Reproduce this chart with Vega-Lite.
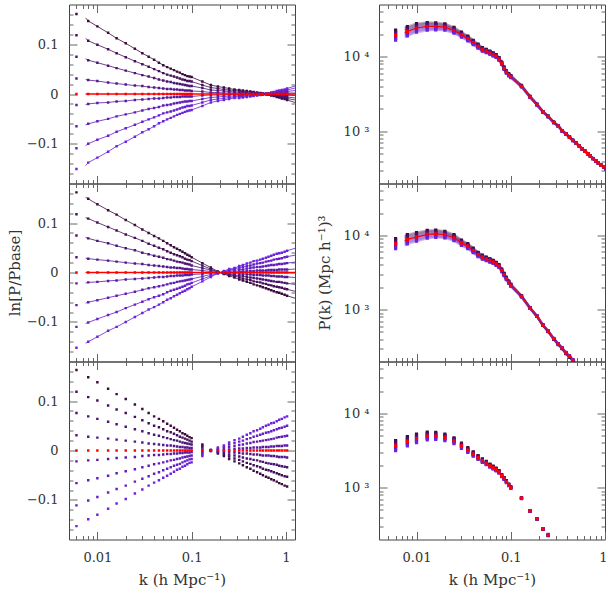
{
"$schema":"https://vega.github.io/schema/vega-lite/v6.json",
"padding":{"left":6,"top":3.5,"right":0,"bottom":0},
"background":"white",
"config":{"view":{"stroke":"#444","strokeWidth":1},"axis":{"domain":false,"grid":false,"tickColor":"#666","tickWidth":1,"labelFont":"DejaVu Serif","labelFontSize":13,"labelColor":"#333","titleFont":"DejaVu Serif","titleFontSize":15,"titleFontWeight":"normal","titleColor":"#333"}},
"datasets":{
"tl":[
{"k":0.006,"t":"p","p4":0.161,"p3":0.118,"p2":0.075,"p1":0.031,"m1":-0.022,"m2":-0.065,"m3":-0.109,"m4":-0.151,"base":0},
{"k":0.0075,"t":"l","p4":0.153,"p3":0.112,"p2":0.071,"p1":0.029,"m1":-0.021,"m2":-0.062,"m3":-0.104,"m4":-0.144,"base":0},
{"k":0.008,"t":"b","p4":0.147,"p3":0.107,"p2":0.068,"p1":0.028,"m1":-0.02,"m2":-0.06,"m3":-0.1,"m4":-0.138,"base":0},
{"k":0.01,"t":"b","p4":0.136,"p3":0.099,"p2":0.063,"p1":0.026,"m1":-0.018,"m2":-0.055,"m3":-0.092,"m4":-0.128,"base":0},
{"k":0.013,"t":"b","p4":0.123,"p3":0.09,"p2":0.057,"p1":0.023,"m1":-0.017,"m2":-0.05,"m3":-0.084,"m4":-0.116,"base":0},
{"k":0.016,"t":"b","p4":0.112,"p3":0.082,"p2":0.052,"p1":0.021,"m1":-0.015,"m2":-0.045,"m3":-0.076,"m4":-0.105,"base":0},
{"k":0.02,"t":"b","p4":0.102,"p3":0.074,"p2":0.047,"p1":0.019,"m1":-0.014,"m2":-0.041,"m3":-0.069,"m4":-0.096,"base":0},
{"k":0.025,"t":"b","p4":0.091,"p3":0.066,"p2":0.042,"p1":0.017,"m1":-0.012,"m2":-0.037,"m3":-0.062,"m4":-0.086,"base":0},
{"k":0.03,"t":"b","p4":0.082,"p3":0.06,"p2":0.038,"p1":0.016,"m1":-0.011,"m2":-0.033,"m3":-0.056,"m4":-0.077,"base":0},
{"k":0.035,"t":"b","p4":0.075,"p3":0.055,"p2":0.035,"p1":0.014,"m1":-0.01,"m2":-0.03,"m3":-0.051,"m4":-0.071,"base":0},
{"k":0.04,"t":"b","p4":0.069,"p3":0.05,"p2":0.032,"p1":0.013,"m1":-0.009,"m2":-0.028,"m3":-0.047,"m4":-0.065,"base":0},
{"k":0.045,"t":"b","p4":0.063,"p3":0.046,"p2":0.029,"p1":0.012,"m1":-0.009,"m2":-0.026,"m3":-0.043,"m4":-0.059,"base":0},
{"k":0.05,"t":"b","p4":0.058,"p3":0.042,"p2":0.027,"p1":0.011,"m1":-0.008,"m2":-0.023,"m3":-0.039,"m4":-0.055,"base":0},
{"k":0.055,"t":"b","p4":0.054,"p3":0.039,"p2":0.025,"p1":0.01,"m1":-0.007,"m2":-0.022,"m3":-0.037,"m4":-0.051,"base":0},
{"k":0.06,"t":"b","p4":0.051,"p3":0.037,"p2":0.024,"p1":0.01,"m1":-0.007,"m2":-0.021,"m3":-0.035,"m4":-0.048,"base":0},
{"k":0.065,"t":"b","p4":0.048,"p3":0.035,"p2":0.022,"p1":0.009,"m1":-0.006,"m2":-0.019,"m3":-0.033,"m4":-0.045,"base":0},
{"k":0.07,"t":"b","p4":0.045,"p3":0.033,"p2":0.021,"p1":0.009,"m1":-0.006,"m2":-0.018,"m3":-0.031,"m4":-0.042,"base":0},
{"k":0.075,"t":"b","p4":0.043,"p3":0.031,"p2":0.02,"p1":0.008,"m1":-0.006,"m2":-0.017,"m3":-0.029,"m4":-0.04,"base":0},
{"k":0.08,"t":"b","p4":0.04,"p3":0.029,"p2":0.019,"p1":0.008,"m1":-0.005,"m2":-0.016,"m3":-0.027,"m4":-0.038,"base":0},
{"k":0.085,"t":"b","p4":0.038,"p3":0.028,"p2":0.018,"p1":0.007,"m1":-0.005,"m2":-0.015,"m3":-0.026,"m4":-0.036,"base":0},
{"k":0.09,"t":"b","p4":0.036,"p3":0.026,"p2":0.017,"p1":0.007,"m1":-0.005,"m2":-0.015,"m3":-0.024,"m4":-0.034,"base":0},
{"k":0.095,"t":"b","p4":0.035,"p3":0.026,"p2":0.016,"p1":0.007,"m1":-0.005,"m2":-0.014,"m3":-0.024,"m4":-0.033,"base":0},
{"k":0.1,"t":"b","p4":0.034,"p3":0.025,"p2":0.016,"p1":0.006,"m1":-0.005,"m2":-0.014,"m3":-0.023,"m4":-0.032,"base":0},
{"k":0.13,"t":"b","p4":0.025,"p3":0.018,"p2":0.012,"p1":0.005,"m1":-0.003,"m2":-0.01,"m3":-0.017,"m4":-0.024,"base":0},
{"k":0.16,"t":"b","p4":0.018,"p3":0.013,"p2":0.008,"p1":0.003,"m1":-0.002,"m2":-0.007,"m3":-0.012,"m4":-0.017,"base":0},
{"k":0.19,"t":"b","p4":0.015,"p3":0.011,"p2":0.007,"p1":0.003,"m1":-0.002,"m2":-0.006,"m3":-0.01,"m4":-0.014,"base":0},
{"k":0.22,"t":"b","p4":0.013,"p3":0.009,"p2":0.006,"p1":0.002,"m1":-0.002,"m2":-0.005,"m3":-0.009,"m4":-0.012,"base":0},
{"k":0.25,"t":"b","p4":0.011,"p3":0.008,"p2":0.005,"p1":0.002,"m1":-0.001,"m2":-0.004,"m3":-0.007,"m4":-0.01,"base":0},
{"k":0.285,"t":"b","p4":0.009,"p3":0.007,"p2":0.004,"p1":0.002,"m1":-0.001,"m2":-0.004,"m3":-0.006,"m4":-0.008,"base":0},
{"k":0.32,"t":"b","p4":0.008,"p3":0.006,"p2":0.004,"p1":0.002,"m1":-0.001,"m2":-0.003,"m3":-0.005,"m4":-0.008,"base":0},
{"k":0.35,"t":"b","p4":0.007,"p3":0.005,"p2":0.003,"p1":0.001,"m1":-0.001,"m2":-0.003,"m3":-0.005,"m4":-0.007,"base":0},
{"k":0.385,"t":"b","p4":0.006,"p3":0.004,"p2":0.003,"p1":0.001,"m1":-0.001,"m2":-0.002,"m3":-0.004,"m4":-0.006,"base":0},
{"k":0.42,"t":"b","p4":0.005,"p3":0.004,"p2":0.002,"p1":0.001,"m1":-0.001,"m2":-0.002,"m3":-0.003,"m4":-0.005,"base":0},
{"k":0.455,"t":"b","p4":0.004,"p3":0.003,"p2":0.002,"p1":0.001,"m1":-0.001,"m2":-0.002,"m3":-0.003,"m4":-0.004,"base":0},
{"k":0.495,"t":"b","p4":0.003,"p3":0.002,"p2":0.001,"p1":0.001,"m1":0,"m2":-0.001,"m3":-0.002,"m4":-0.003,"base":0},
{"k":0.535,"t":"b","p4":0.002,"p3":0.001,"p2":0.001,"p1":0,"m1":0,"m2":-0.001,"m3":-0.001,"m4":-0.002,"base":0},
{"k":0.57,"t":"b","p4":0.001,"p3":0.001,"p2":0,"p1":0,"m1":0,"m2":0,"m3":-0.001,"m4":-0.001,"base":0},
{"k":0.615,"t":"b","p4":0,"p3":0,"p2":0,"p1":0,"m1":0,"m2":0,"m3":0,"m4":0,"base":0},
{"k":0.655,"t":"b","p4":-0.001,"p3":-0.001,"p2":0,"p1":0,"m1":0,"m2":0,"m3":0.001,"m4":0.001,"base":0},
{"k":0.7,"t":"b","p4":-0.003,"p3":-0.002,"p2":-0.001,"p1":-0.001,"m1":0,"m2":0.001,"m3":0.002,"m4":0.003,"base":0},
{"k":0.745,"t":"b","p4":-0.004,"p3":-0.003,"p2":-0.002,"p1":-0.001,"m1":0.001,"m2":0.002,"m3":0.003,"m4":0.004,"base":0},
{"k":0.8,"t":"b","p4":-0.006,"p3":-0.004,"p2":-0.003,"p1":-0.001,"m1":0.001,"m2":0.002,"m3":0.004,"m4":0.006,"base":0},
{"k":0.85,"t":"b","p4":-0.007,"p3":-0.005,"p2":-0.003,"p1":-0.001,"m1":0.001,"m2":0.003,"m3":0.005,"m4":0.007,"base":0},
{"k":0.905,"t":"b","p4":-0.009,"p3":-0.007,"p2":-0.004,"p1":-0.002,"m1":0.001,"m2":0.004,"m3":0.006,"m4":0.008,"base":0},
{"k":0.97,"t":"b","p4":-0.01,"p3":-0.007,"p2":-0.005,"p1":-0.002,"m1":0.001,"m2":0.004,"m3":0.007,"m4":0.009,"base":0},
{"k":1.03,"t":"b","p4":-0.012,"p3":-0.009,"p2":-0.006,"p1":-0.002,"m1":0.002,"m2":0.005,"m3":0.008,"m4":0.011,"base":0},
{"k":1.25,"t":"l","p4":-0.017,"p3":-0.012,"p2":-0.008,"p1":-0.003,"m1":0.002,"m2":0.007,"m3":0.012,"m4":0.016,"base":0}
],
"ml":[
{"k":0.006,"t":"p","p4":0.162,"p3":0.118,"p2":0.075,"p1":0.031,"m1":-0.022,"m2":-0.066,"m3":-0.11,"m4":-0.152,"base":0},
{"k":0.0075,"t":"l","p4":0.152,"p3":0.111,"p2":0.071,"p1":0.029,"m1":-0.021,"m2":-0.062,"m3":-0.103,"m4":-0.143,"base":0},
{"k":0.008,"t":"b","p4":0.149,"p3":0.109,"p2":0.069,"p1":0.028,"m1":-0.02,"m2":-0.06,"m3":-0.101,"m4":-0.14,"base":0},
{"k":0.01,"t":"b","p4":0.138,"p3":0.101,"p2":0.064,"p1":0.026,"m1":-0.019,"m2":-0.056,"m3":-0.094,"m4":-0.13,"base":0},
{"k":0.013,"t":"b","p4":0.126,"p3":0.092,"p2":0.059,"p1":0.024,"m1":-0.017,"m2":-0.051,"m3":-0.086,"m4":-0.118,"base":0},
{"k":0.016,"t":"b","p4":0.117,"p3":0.085,"p2":0.054,"p1":0.022,"m1":-0.016,"m2":-0.047,"m3":-0.08,"m4":-0.11,"base":0},
{"k":0.02,"t":"b","p4":0.106,"p3":0.077,"p2":0.049,"p1":0.02,"m1":-0.014,"m2":-0.043,"m3":-0.072,"m4":-0.1,"base":0},
{"k":0.025,"t":"b","p4":0.096,"p3":0.07,"p2":0.045,"p1":0.018,"m1":-0.013,"m2":-0.039,"m3":-0.065,"m4":-0.09,"base":0},
{"k":0.03,"t":"b","p4":0.087,"p3":0.064,"p2":0.04,"p1":0.017,"m1":-0.012,"m2":-0.035,"m3":-0.059,"m4":-0.082,"base":0},
{"k":0.035,"t":"b","p4":0.08,"p3":0.058,"p2":0.037,"p1":0.015,"m1":-0.011,"m2":-0.032,"m3":-0.054,"m4":-0.075,"base":0},
{"k":0.04,"t":"b","p4":0.074,"p3":0.054,"p2":0.034,"p1":0.014,"m1":-0.01,"m2":-0.03,"m3":-0.05,"m4":-0.07,"base":0},
{"k":0.045,"t":"b","p4":0.069,"p3":0.05,"p2":0.032,"p1":0.013,"m1":-0.009,"m2":-0.028,"m3":-0.047,"m4":-0.065,"base":0},
{"k":0.05,"t":"b","p4":0.064,"p3":0.047,"p2":0.03,"p1":0.012,"m1":-0.009,"m2":-0.026,"m3":-0.044,"m4":-0.06,"base":0},
{"k":0.055,"t":"b","p4":0.059,"p3":0.043,"p2":0.027,"p1":0.011,"m1":-0.008,"m2":-0.024,"m3":-0.04,"m4":-0.055,"base":0},
{"k":0.06,"t":"b","p4":0.055,"p3":0.04,"p2":0.026,"p1":0.01,"m1":-0.007,"m2":-0.022,"m3":-0.037,"m4":-0.052,"base":0},
{"k":0.065,"t":"b","p4":0.051,"p3":0.037,"p2":0.024,"p1":0.01,"m1":-0.007,"m2":-0.021,"m3":-0.035,"m4":-0.048,"base":0},
{"k":0.07,"t":"b","p4":0.048,"p3":0.035,"p2":0.022,"p1":0.009,"m1":-0.006,"m2":-0.019,"m3":-0.033,"m4":-0.045,"base":0},
{"k":0.075,"t":"b","p4":0.045,"p3":0.033,"p2":0.021,"p1":0.009,"m1":-0.006,"m2":-0.018,"m3":-0.031,"m4":-0.042,"base":0},
{"k":0.08,"t":"b","p4":0.042,"p3":0.031,"p2":0.02,"p1":0.008,"m1":-0.006,"m2":-0.017,"m3":-0.029,"m4":-0.039,"base":0},
{"k":0.085,"t":"b","p4":0.039,"p3":0.028,"p2":0.018,"p1":0.007,"m1":-0.005,"m2":-0.016,"m3":-0.027,"m4":-0.037,"base":0},
{"k":0.09,"t":"b","p4":0.036,"p3":0.026,"p2":0.017,"p1":0.007,"m1":-0.005,"m2":-0.015,"m3":-0.024,"m4":-0.034,"base":0},
{"k":0.095,"t":"b","p4":0.034,"p3":0.025,"p2":0.016,"p1":0.006,"m1":-0.005,"m2":-0.014,"m3":-0.023,"m4":-0.032,"base":0},
{"k":0.1,"t":"b","p4":0.031,"p3":0.023,"p2":0.014,"p1":0.006,"m1":-0.004,"m2":-0.013,"m3":-0.021,"m4":-0.029,"base":0},
{"k":0.13,"t":"b","p4":0.019,"p3":0.014,"p2":0.009,"p1":0.004,"m1":-0.003,"m2":-0.008,"m3":-0.013,"m4":-0.018,"base":0},
{"k":0.16,"t":"b","p4":0.01,"p3":0.007,"p2":0.005,"p1":0.002,"m1":-0.001,"m2":-0.004,"m3":-0.007,"m4":-0.009,"base":0},
{"k":0.19,"t":"b","p4":0.002,"p3":0.001,"p2":0.001,"p1":0,"m1":0,"m2":-0.001,"m3":-0.001,"m4":-0.002,"base":0},
{"k":0.22,"t":"b","p4":-0.003,"p3":-0.002,"p2":-0.001,"p1":-0.001,"m1":0,"m2":0.001,"m3":0.002,"m4":0.003,"base":0},
{"k":0.25,"t":"b","p4":-0.007,"p3":-0.005,"p2":-0.003,"p1":-0.001,"m1":0.001,"m2":0.003,"m3":0.005,"m4":0.007,"base":0},
{"k":0.285,"t":"b","p4":-0.01,"p3":-0.007,"p2":-0.005,"p1":-0.002,"m1":0.001,"m2":0.004,"m3":0.007,"m4":0.009,"base":0},
{"k":0.32,"t":"b","p4":-0.014,"p3":-0.01,"p2":-0.007,"p1":-0.003,"m1":0.002,"m2":0.006,"m3":0.01,"m4":0.013,"base":0},
{"k":0.35,"t":"b","p4":-0.016,"p3":-0.012,"p2":-0.007,"p1":-0.003,"m1":0.002,"m2":0.006,"m3":0.011,"m4":0.015,"base":0},
{"k":0.385,"t":"b","p4":-0.019,"p3":-0.014,"p2":-0.009,"p1":-0.004,"m1":0.003,"m2":0.008,"m3":0.013,"m4":0.018,"base":0},
{"k":0.42,"t":"b","p4":-0.021,"p3":-0.015,"p2":-0.01,"p1":-0.004,"m1":0.003,"m2":0.009,"m3":0.014,"m4":0.02,"base":0},
{"k":0.455,"t":"b","p4":-0.024,"p3":-0.018,"p2":-0.011,"p1":-0.005,"m1":0.003,"m2":0.01,"m3":0.016,"m4":0.023,"base":0},
{"k":0.495,"t":"b","p4":-0.026,"p3":-0.019,"p2":-0.012,"p1":-0.005,"m1":0.004,"m2":0.011,"m3":0.018,"m4":0.024,"base":0},
{"k":0.535,"t":"b","p4":-0.028,"p3":-0.02,"p2":-0.013,"p1":-0.005,"m1":0.004,"m2":0.011,"m3":0.019,"m4":0.026,"base":0},
{"k":0.57,"t":"b","p4":-0.03,"p3":-0.022,"p2":-0.014,"p1":-0.006,"m1":0.004,"m2":0.012,"m3":0.02,"m4":0.028,"base":0},
{"k":0.615,"t":"b","p4":-0.032,"p3":-0.023,"p2":-0.015,"p1":-0.006,"m1":0.004,"m2":0.013,"m3":0.022,"m4":0.03,"base":0},
{"k":0.655,"t":"b","p4":-0.034,"p3":-0.025,"p2":-0.016,"p1":-0.006,"m1":0.005,"m2":0.014,"m3":0.023,"m4":0.032,"base":0},
{"k":0.7,"t":"b","p4":-0.036,"p3":-0.026,"p2":-0.017,"p1":-0.007,"m1":0.005,"m2":0.015,"m3":0.024,"m4":0.034,"base":0},
{"k":0.745,"t":"b","p4":-0.038,"p3":-0.028,"p2":-0.018,"p1":-0.007,"m1":0.005,"m2":0.015,"m3":0.026,"m4":0.036,"base":0},
{"k":0.8,"t":"b","p4":-0.04,"p3":-0.029,"p2":-0.019,"p1":-0.008,"m1":0.005,"m2":0.016,"m3":0.027,"m4":0.038,"base":0},
{"k":0.85,"t":"b","p4":-0.041,"p3":-0.03,"p2":-0.019,"p1":-0.008,"m1":0.006,"m2":0.017,"m3":0.028,"m4":0.039,"base":0},
{"k":0.905,"t":"b","p4":-0.043,"p3":-0.031,"p2":-0.02,"p1":-0.008,"m1":0.006,"m2":0.017,"m3":0.029,"m4":0.04,"base":0},
{"k":0.97,"t":"b","p4":-0.045,"p3":-0.033,"p2":-0.021,"p1":-0.009,"m1":0.006,"m2":0.018,"m3":0.031,"m4":0.042,"base":0},
{"k":1.03,"t":"b","p4":-0.047,"p3":-0.034,"p2":-0.022,"p1":-0.009,"m1":0.006,"m2":0.019,"m3":0.032,"m4":0.044,"base":0},
{"k":1.25,"t":"l","p4":-0.052,"p3":-0.038,"p2":-0.024,"p1":-0.01,"m1":0.007,"m2":0.021,"m3":0.035,"m4":0.049,"base":0}
],
"bl":[
{"k":0.006,"p4":0.163,"p3":0.119,"p2":0.076,"p1":0.031,"m1":-0.022,"m2":-0.066,"m3":-0.111,"m4":-0.153,"base":0},
{"k":0.008,"p4":0.148,"p3":0.108,"p2":0.069,"p1":0.028,"m1":-0.02,"m2":-0.06,"m3":-0.101,"m4":-0.139,"base":0},
{"k":0.01,"p4":0.138,"p3":0.101,"p2":0.064,"p1":0.026,"m1":-0.019,"m2":-0.056,"m3":-0.094,"m4":-0.13,"base":0},
{"k":0.013,"p4":0.125,"p3":0.091,"p2":0.058,"p1":0.024,"m1":-0.017,"m2":-0.051,"m3":-0.085,"m4":-0.118,"base":0},
{"k":0.016,"p4":0.114,"p3":0.083,"p2":0.053,"p1":0.022,"m1":-0.015,"m2":-0.046,"m3":-0.078,"m4":-0.107,"base":0},
{"k":0.02,"p4":0.104,"p3":0.076,"p2":0.048,"p1":0.02,"m1":-0.014,"m2":-0.042,"m3":-0.071,"m4":-0.098,"base":0},
{"k":0.025,"p4":0.093,"p3":0.068,"p2":0.043,"p1":0.018,"m1":-0.013,"m2":-0.038,"m3":-0.063,"m4":-0.087,"base":0},
{"k":0.03,"p4":0.084,"p3":0.061,"p2":0.039,"p1":0.016,"m1":-0.011,"m2":-0.034,"m3":-0.057,"m4":-0.079,"base":0},
{"k":0.035,"p4":0.076,"p3":0.055,"p2":0.035,"p1":0.014,"m1":-0.01,"m2":-0.031,"m3":-0.052,"m4":-0.071,"base":0},
{"k":0.04,"p4":0.069,"p3":0.05,"p2":0.032,"p1":0.013,"m1":-0.009,"m2":-0.028,"m3":-0.047,"m4":-0.065,"base":0},
{"k":0.045,"p4":0.064,"p3":0.047,"p2":0.03,"p1":0.012,"m1":-0.009,"m2":-0.026,"m3":-0.044,"m4":-0.06,"base":0},
{"k":0.05,"p4":0.059,"p3":0.043,"p2":0.027,"p1":0.011,"m1":-0.008,"m2":-0.024,"m3":-0.04,"m4":-0.055,"base":0},
{"k":0.055,"p4":0.054,"p3":0.039,"p2":0.025,"p1":0.01,"m1":-0.007,"m2":-0.022,"m3":-0.037,"m4":-0.051,"base":0},
{"k":0.06,"p4":0.05,"p3":0.037,"p2":0.023,"p1":0.01,"m1":-0.007,"m2":-0.02,"m3":-0.034,"m4":-0.047,"base":0},
{"k":0.065,"p4":0.046,"p3":0.034,"p2":0.021,"p1":0.009,"m1":-0.006,"m2":-0.019,"m3":-0.031,"m4":-0.043,"base":0},
{"k":0.07,"p4":0.042,"p3":0.031,"p2":0.02,"p1":0.008,"m1":-0.006,"m2":-0.017,"m3":-0.029,"m4":-0.039,"base":0},
{"k":0.075,"p4":0.039,"p3":0.028,"p2":0.018,"p1":0.007,"m1":-0.005,"m2":-0.016,"m3":-0.027,"m4":-0.037,"base":0},
{"k":0.08,"p4":0.035,"p3":0.026,"p2":0.016,"p1":0.007,"m1":-0.005,"m2":-0.014,"m3":-0.024,"m4":-0.033,"base":0},
{"k":0.085,"p4":0.033,"p3":0.024,"p2":0.015,"p1":0.006,"m1":-0.004,"m2":-0.013,"m3":-0.022,"m4":-0.031,"base":0},
{"k":0.09,"p4":0.03,"p3":0.022,"p2":0.014,"p1":0.006,"m1":-0.004,"m2":-0.012,"m3":-0.02,"m4":-0.028,"base":0},
{"k":0.095,"p4":0.027,"p3":0.02,"p2":0.013,"p1":0.005,"m1":-0.004,"m2":-0.011,"m3":-0.018,"m4":-0.025,"base":0},
{"k":0.1,"p4":0.025,"p3":0.018,"p2":0.012,"p1":0.005,"m1":-0.003,"m2":-0.01,"m3":-0.017,"m4":-0.024,"base":0},
{"k":0.13,"p4":0.012,"p3":0.009,"p2":0.006,"p1":0.002,"m1":-0.002,"m2":-0.005,"m3":-0.008,"m4":-0.011,"base":0},
{"k":0.16,"p4":0.001,"p3":0.001,"p2":0,"p1":0,"m1":0,"m2":0,"m3":-0.001,"m4":-0.001,"base":0},
{"k":0.19,"p4":-0.006,"p3":-0.004,"p2":-0.003,"p1":-0.001,"m1":0.001,"m2":0.002,"m3":0.004,"m4":0.006,"base":0},
{"k":0.22,"p4":-0.011,"p3":-0.008,"p2":-0.005,"p1":-0.002,"m1":0.001,"m2":0.004,"m3":0.007,"m4":0.01,"base":0},
{"k":0.25,"p4":-0.017,"p3":-0.012,"p2":-0.008,"p1":-0.003,"m1":0.002,"m2":0.007,"m3":0.012,"m4":0.016,"base":0},
{"k":0.285,"p4":-0.022,"p3":-0.016,"p2":-0.01,"p1":-0.004,"m1":0.003,"m2":0.009,"m3":0.015,"m4":0.021,"base":0},
{"k":0.32,"p4":-0.026,"p3":-0.019,"p2":-0.012,"p1":-0.005,"m1":0.004,"m2":0.011,"m3":0.018,"m4":0.024,"base":0},
{"k":0.35,"p4":-0.03,"p3":-0.022,"p2":-0.014,"p1":-0.006,"m1":0.004,"m2":0.012,"m3":0.02,"m4":0.028,"base":0},
{"k":0.385,"p4":-0.034,"p3":-0.025,"p2":-0.016,"p1":-0.006,"m1":0.005,"m2":0.014,"m3":0.023,"m4":0.032,"base":0},
{"k":0.42,"p4":-0.037,"p3":-0.027,"p2":-0.017,"p1":-0.007,"m1":0.005,"m2":0.015,"m3":0.025,"m4":0.035,"base":0},
{"k":0.455,"p4":-0.041,"p3":-0.03,"p2":-0.019,"p1":-0.008,"m1":0.006,"m2":0.017,"m3":0.028,"m4":0.039,"base":0},
{"k":0.495,"p4":-0.044,"p3":-0.032,"p2":-0.02,"p1":-0.008,"m1":0.006,"m2":0.018,"m3":0.03,"m4":0.041,"base":0},
{"k":0.535,"p4":-0.047,"p3":-0.034,"p2":-0.022,"p1":-0.009,"m1":0.006,"m2":0.019,"m3":0.032,"m4":0.044,"base":0},
{"k":0.57,"p4":-0.05,"p3":-0.037,"p2":-0.023,"p1":-0.01,"m1":0.007,"m2":0.02,"m3":0.034,"m4":0.047,"base":0},
{"k":0.615,"p4":-0.053,"p3":-0.039,"p2":-0.025,"p1":-0.01,"m1":0.007,"m2":0.021,"m3":0.036,"m4":0.05,"base":0},
{"k":0.655,"p4":-0.055,"p3":-0.04,"p2":-0.026,"p1":-0.01,"m1":0.007,"m2":0.022,"m3":0.037,"m4":0.052,"base":0},
{"k":0.7,"p4":-0.058,"p3":-0.042,"p2":-0.027,"p1":-0.011,"m1":0.008,"m2":0.023,"m3":0.039,"m4":0.055,"base":0},
{"k":0.745,"p4":-0.06,"p3":-0.044,"p2":-0.028,"p1":-0.011,"m1":0.008,"m2":0.024,"m3":0.041,"m4":0.056,"base":0},
{"k":0.8,"p4":-0.063,"p3":-0.046,"p2":-0.029,"p1":-0.012,"m1":0.009,"m2":0.026,"m3":0.043,"m4":0.059,"base":0},
{"k":0.85,"p4":-0.066,"p3":-0.048,"p2":-0.031,"p1":-0.013,"m1":0.009,"m2":0.027,"m3":0.045,"m4":0.062,"base":0},
{"k":0.905,"p4":-0.068,"p3":-0.05,"p2":-0.032,"p1":-0.013,"m1":0.009,"m2":0.028,"m3":0.046,"m4":0.064,"base":0},
{"k":0.97,"p4":-0.071,"p3":-0.052,"p2":-0.033,"p1":-0.013,"m1":0.01,"m2":0.029,"m3":0.048,"m4":0.067,"base":0},
{"k":1.03,"p4":-0.073,"p3":-0.053,"p2":-0.034,"p1":-0.014,"m1":0.01,"m2":0.03,"m3":0.05,"m4":0.069,"base":0}
],
"tr":[
{"k":0.006,"t":"p","p4":22800,"p3":21800,"p2":20900,"p1":20000,"m1":19000,"m2":18200,"m3":17400,"m4":16700,"base":19400},
{"k":0.0075,"t":"l","p4":24470,"p3":23490,"p2":22550,"p1":21620,"m1":20560,"m2":19740,"m3":18930,"m4":18180,"base":21000},
{"k":0.008,"t":"b","p4":25250,"p3":24260,"p2":23330,"p1":22420,"m1":21370,"m2":20530,"m3":19720,"m4":18990,"base":21800},
{"k":0.01,"t":"b","p4":27730,"p3":26720,"p2":25770,"p1":24840,"m1":23770,"m2":22910,"m3":22070,"m4":21290,"base":24200},
{"k":0.013,"t":"b","p4":28720,"p3":27790,"p2":26890,"p1":25990,"m1":24970,"m2":24160,"m3":23350,"m4":22620,"base":25400},
{"k":0.016,"t":"b","p4":28410,"p3":27570,"p2":26760,"p1":25940,"m1":25020,"m2":24280,"m3":23540,"m4":22870,"base":25400},
{"k":0.02,"t":"b","p4":27570,"p3":26810,"p2":26100,"p1":25380,"m1":24550,"m2":23900,"m3":23240,"m4":22620,"base":24900},
{"k":0.025,"t":"b","p4":24640,"p3":24030,"p2":23470,"p1":22880,"m1":22230,"m2":21680,"m3":21150,"m4":20650,"base":22500},
{"k":0.03,"t":"b","p4":21380,"p3":20920,"p2":20460,"p1":20020,"m1":19490,"m2":19060,"m3":18630,"m4":18240,"base":19700},
{"k":0.035,"t":"b","p4":18860,"p3":18490,"p2":18120,"p1":17750,"m1":17330,"m2":16980,"m3":16630,"m4":16300,"base":17500},
{"k":0.04,"t":"b","p4":16610,"p3":16300,"p2":16000,"p1":15700,"m1":15360,"m2":15070,"m3":14790,"m4":14530,"base":15500},
{"k":0.045,"t":"b","p4":14700,"p3":14450,"p2":14210,"p1":13970,"m1":13680,"m2":13450,"m3":13220,"m4":13010,"base":13800},
{"k":0.05,"t":"b","p4":13250,"p3":13040,"p2":12840,"p1":12640,"m1":12400,"m2":12220,"m3":12020,"m4":11830,"base":12500},
{"k":0.055,"t":"b","p4":12560,"p3":12370,"p2":12200,"p1":12020,"m1":11820,"m2":11640,"m3":11470,"m4":11310,"base":11900},
{"k":0.06,"t":"b","p4":11890,"p3":11730,"p2":11570,"p1":11410,"m1":11220,"m2":11070,"m3":10910,"m4":10770,"base":11300},
{"k":0.065,"t":"b","p4":11230,"p3":11080,"p2":10940,"p1":10800,"m1":10640,"m2":10500,"m3":10350,"m4":10230,"base":10700},
{"k":0.07,"t":"b","p4":10670,"p3":10540,"p2":10420,"p1":10290,"m1":10140,"m2":10020,"m3":9890,"m4":9780,"base":10200},
{"k":0.075,"t":"b","p4":9740,"p3":9620,"p2":9520,"p1":9400,"m1":9270,"m2":9170,"m3":9060,"m4":8960,"base":9330},
{"k":0.08,"t":"b","p4":8490,"p3":8400,"p2":8320,"p1":8230,"m1":8120,"m2":8030,"m3":7940,"m4":7860,"base":8160},
{"k":0.085,"t":"b","p4":7270,"p3":7200,"p2":7130,"p1":7050,"m1":6970,"m2":6900,"m3":6820,"m4":6750,"base":7000},
{"k":0.09,"t":"b","p4":6440,"p3":6370,"p2":6320,"p1":6250,"m1":6180,"m2":6120,"m3":6060,"m4":6000,"base":6210},
{"k":0.095,"t":"b","p4":5930,"p3":5880,"p2":5820,"p1":5770,"m1":5700,"m2":5650,"m3":5590,"m4":5540,"base":5730},
{"k":0.1,"t":"b","p4":5590,"p3":5540,"p2":5490,"p1":5430,"m1":5370,"m2":5320,"m3":5280,"m4":5230,"base":5400},
{"k":0.13,"t":"b","p4":4120,"p3":4090,"p2":4070,"p1":4040,"m1":4010,"m2":3980,"m3":3950,"m4":3920,"base":4020},
{"k":0.16,"t":"b","p4":2950,"p3":2940,"p2":2920,"p1":2910,"m1":2890,"m2":2880,"m3":2870,"m4":2850,"base":2900},
{"k":0.19,"t":"b","p4":2310,"p3":2300,"p2":2290,"p1":2280,"m1":2270,"m2":2260,"m3":2250,"m4":2240,"base":2275},
{"k":0.22,"t":"b","p4":1840,"p3":1840,"p2":1830,"p1":1820,"m1":1820,"m2":1810,"m3":1800,"m4":1800,"base":1820},
{"k":0.25,"t":"b","p4":1595,"p3":1590,"p2":1586,"p1":1581,"m1":1576,"m2":1572,"m3":1567,"m4":1562,"base":1578},
{"k":0.285,"t":"b","p4":1327,"p3":1324,"p2":1320,"p1":1318,"m1":1314,"m2":1310,"m3":1307,"m4":1304,"base":1315},
{"k":0.32,"t":"b","p4":1187,"p3":1185,"p2":1183,"p1":1180,"m1":1177,"m2":1174,"m3":1172,"m4":1169,"base":1178},
{"k":0.35,"t":"b","p4":1027,"p3":1025,"p2":1023,"p1":1021,"m1":1019,"m2":1017,"m3":1015,"m4":1013,"base":1020},
{"k":0.385,"t":"b","p4":931,"p3":929,"p2":928,"p1":926,"m1":924,"m2":923,"m3":921,"m4":919,"base":925},
{"k":0.42,"t":"b","p4":838,"p3":837,"p2":836,"p1":835,"m1":833,"m2":832,"m3":831,"m4":830,"base":834},
{"k":0.455,"t":"b","p4":757,"p3":756,"p2":756,"p1":755,"m1":753,"m2":753,"m3":752,"m4":751,"base":754},
{"k":0.495,"t":"b","p4":695,"p3":694,"p2":694,"p1":694,"m1":693,"m2":692,"m3":692,"m4":691,"base":693},
{"k":0.535,"t":"b","p4":635,"p3":635,"p2":635,"p1":634,"m1":634,"m2":633,"m3":633,"m4":633,"base":634},
{"k":0.57,"t":"b","p4":586,"p3":586,"p2":585,"p1":585,"m1":585,"m2":585,"m3":584,"m4":584,"base":585},
{"k":0.615,"t":"b","p4":540,"p3":540,"p2":540,"p1":540,"m1":540,"m2":540,"m3":540,"m4":540,"base":540},
{"k":0.655,"t":"b","p4":501,"p3":501,"p2":502,"p1":502,"m1":502,"m2":502,"m3":503,"m4":503,"base":502},
{"k":0.7,"t":"b","p4":467,"p3":467,"p2":468,"p1":468,"m1":468,"m2":468,"m3":469,"m4":469,"base":468},
{"k":0.745,"t":"b","p4":430,"p3":431,"p2":431,"p1":432,"m1":432,"m2":433,"m3":433,"m4":434,"base":432},
{"k":0.8,"t":"b","p4":400,"p3":400,"p2":401,"p1":402,"m1":402,"m2":403,"m3":404,"m4":404,"base":402},
{"k":0.85,"t":"b","p4":375,"p3":376,"p2":377,"p1":378,"m1":378,"m2":379,"m3":380,"m4":381,"base":378},
{"k":0.905,"t":"b","p4":349,"p3":350,"p2":351,"p1":351,"m1":352,"m2":353,"m3":354,"m4":355,"base":352},
{"k":0.97,"t":"b","p4":332,"p3":333,"p2":333,"p1":334,"m1":335,"m2":336,"m3":337,"m4":338,"base":335},
{"k":1.03,"t":"b","p4":311,"p3":312,"p2":313,"p1":314,"m1":316,"m2":317,"m3":318,"m4":318,"base":315}
],
"mr":[
{"k":0.006,"t":"p","p4":9070,"p3":8680,"p2":8310,"p1":7950,"m1":7540,"m2":7220,"m3":6910,"m4":6620,"base":7710},
{"k":0.0075,"t":"l","p4":9780,"p3":9390,"p2":9020,"p1":8650,"m1":8230,"m2":7900,"m3":7580,"m4":7280,"base":8400},
{"k":0.008,"t":"b","p4":10250,"p3":9850,"p2":9460,"p1":9080,"m1":8660,"m2":8320,"m3":7980,"m4":7680,"base":8830},
{"k":0.01,"t":"b","p4":10890,"p3":10500,"p2":10120,"p1":9740,"m1":9310,"m2":8970,"m3":8640,"m4":8330,"base":9490},
{"k":0.013,"t":"b","p4":11680,"p3":11290,"p2":10930,"p1":10550,"m1":10130,"m2":9790,"m3":9450,"m4":9150,"base":10300},
{"k":0.016,"t":"b","p4":11800,"p3":11430,"p2":11080,"p1":10730,"m1":10330,"m2":10020,"m3":9690,"m4":9410,"base":10500},
{"k":0.02,"t":"b","p4":11340,"p3":11020,"p2":10710,"p1":10410,"m1":10060,"m2":9770,"m3":9490,"m4":9230,"base":10200},
{"k":0.025,"t":"b","p4":10230,"p3":9960,"p2":9720,"p1":9460,"m1":9170,"m2":8940,"m3":8710,"m4":8490,"base":9290},
{"k":0.03,"t":"b","p4":8660,"p3":8460,"p2":8260,"p1":8080,"m1":7850,"m2":7670,"m3":7490,"m4":7320,"base":7940},
{"k":0.035,"t":"b","p4":7760,"p3":7590,"p2":7430,"p1":7270,"m1":7080,"m2":6930,"m3":6780,"m4":6640,"base":7160},
{"k":0.04,"t":"b","p4":6730,"p3":6600,"p2":6470,"p1":6340,"m1":6190,"m2":6070,"m3":5950,"m4":5830,"base":6250},
{"k":0.045,"t":"b","p4":5920,"p3":5810,"p2":5710,"p1":5600,"m1":5480,"m2":5380,"m3":5280,"m4":5180,"base":5530},
{"k":0.05,"t":"b","p4":5430,"p3":5330,"p2":5250,"p1":5150,"m1":5040,"m2":4960,"m3":4870,"m4":4790,"base":5090},
{"k":0.055,"t":"b","p4":5120,"p3":5040,"p2":4960,"p1":4880,"m1":4790,"m2":4720,"m3":4640,"m4":4570,"base":4830},
{"k":0.06,"t":"b","p4":4850,"p3":4780,"p2":4710,"p1":4640,"m1":4560,"m2":4490,"m3":4420,"m4":4360,"base":4590},
{"k":0.065,"t":"b","p4":4630,"p3":4570,"p2":4510,"p1":4440,"m1":4370,"m2":4310,"m3":4250,"m4":4190,"base":4400},
{"k":0.07,"t":"b","p4":4330,"p3":4280,"p2":4220,"p1":4170,"m1":4110,"m2":4050,"m3":4000,"m4":3950,"base":4130},
{"k":0.075,"t":"b","p4":4030,"p3":3980,"p2":3930,"p1":3880,"m1":3830,"m2":3780,"m3":3730,"m4":3690,"base":3850},
{"k":0.08,"t":"b","p4":3510,"p3":3480,"p2":3440,"p1":3400,"m1":3350,"m2":3310,"m3":3270,"m4":3240,"base":3370},
{"k":0.085,"t":"b","p4":3090,"p3":3050,"p2":3020,"p1":2990,"m1":2960,"m2":2920,"m3":2890,"m4":2860,"base":2970},
{"k":0.09,"t":"b","p4":2720,"p3":2690,"p2":2660,"p1":2640,"m1":2610,"m2":2580,"m3":2560,"m4":2530,"base":2620},
{"k":0.095,"t":"b","p4":2420,"p3":2400,"p2":2380,"p1":2350,"m1":2330,"m2":2310,"m3":2290,"m4":2270,"base":2340},
{"k":0.1,"t":"b","p4":2200,"p3":2180,"p2":2160,"p1":2140,"m1":2120,"m2":2100,"m3":2090,"m4":2070,"base":2130},
{"k":0.13,"t":"b","p4":1539,"p3":1531,"p2":1524,"p1":1516,"m1":1505,"m2":1498,"m3":1490,"m4":1483,"base":1510},
{"k":0.16,"t":"b","p4":1061,"p3":1057,"p2":1055,"p1":1052,"m1":1049,"m2":1046,"m3":1043,"m4":1041,"base":1050},
{"k":0.19,"t":"b","p4":813,"p3":812,"p2":812,"p1":811,"m1":811,"m2":810,"m3":810,"m4":809,"base":811},
{"k":0.22,"t":"b","p4":612,"p3":613,"p2":613,"p1":613,"m1":614,"m2":615,"m3":615,"m4":616,"base":614},
{"k":0.25,"t":"b","p4":506,"p3":507,"p2":508,"p1":509,"m1":511,"m2":512,"m3":513,"m4":514,"base":510},
{"k":0.285,"t":"b","p4":401,"p3":402,"p2":403,"p1":404,"m1":405,"m2":407,"m3":408,"m4":409,"base":405},
{"k":0.32,"t":"b","p4":338,"p3":340,"p2":341,"p1":342,"m1":344,"m2":345,"m3":346,"m4":347,"base":343},
{"k":0.35,"t":"b","p4":298,"p3":299,"p2":301,"p1":302,"m1":304,"m2":305,"m3":306,"m4":308,"base":303},
{"k":0.385,"t":"b","p4":255,"p3":256,"p2":258,"p1":259,"m1":261,"m2":262,"m3":263,"m4":265,"base":260},
{"k":0.42,"t":"b","p4":229,"p3":230,"p2":232,"p1":233,"m1":235,"m2":236,"m3":237,"m4":239,"base":234},
{"k":0.455,"t":"b","p4":203,"p3":204,"p2":206,"p1":207,"m1":209,"m2":210,"m3":211,"m4":213,"base":208},
{"k":0.495,"t":"b","p4":180,"p3":182,"p2":183,"p1":184,"m1":186,"m2":187,"m3":188,"m4":189,"base":185}
],
"br":[
{"k":0.006,"p4":4310,"p3":4120,"p2":3950,"p1":3780,"m1":3580,"m2":3430,"m3":3280,"m4":3140,"base":3660},
{"k":0.008,"p4":4860,"p3":4670,"p2":4490,"p1":4310,"m1":4110,"m2":3950,"m3":3790,"m4":3650,"base":4190},
{"k":0.01,"p4":5270,"p3":5080,"p2":4890,"p1":4710,"m1":4500,"m2":4340,"m3":4180,"m4":4030,"base":4590},
{"k":0.013,"p4":5610,"p3":5420,"p2":5250,"p1":5070,"m1":4870,"m2":4700,"m3":4550,"m4":4400,"base":4950},
{"k":0.016,"p4":5550,"p3":5380,"p2":5220,"p1":5060,"m1":4880,"m2":4730,"m3":4580,"m4":4450,"base":4950},
{"k":0.02,"p4":5260,"p3":5110,"p2":4970,"p1":4840,"m1":4670,"m2":4550,"m3":4420,"m4":4300,"base":4740},
{"k":0.025,"p4":4700,"p3":4580,"p2":4470,"p1":4360,"m1":4220,"m2":4120,"m3":4020,"m4":3920,"base":4280},
{"k":0.03,"p4":3980,"p3":3890,"p2":3810,"p1":3720,"m1":3620,"m2":3540,"m3":3460,"m4":3380,"base":3660},
{"k":0.035,"p4":3450,"p3":3380,"p2":3310,"p1":3250,"m1":3170,"m2":3100,"m3":3040,"m4":2980,"base":3200},
{"k":0.04,"p4":3030,"p3":2980,"p2":2920,"p1":2870,"m1":2800,"m2":2750,"m3":2700,"m4":2650,"base":2830},
{"k":0.045,"p4":2710,"p3":2660,"p2":2620,"p1":2570,"m1":2520,"m2":2470,"m3":2430,"m4":2390,"base":2540},
{"k":0.05,"p4":2440,"p3":2400,"p2":2360,"p1":2330,"m1":2280,"m2":2250,"m3":2210,"m4":2180,"base":2300},
{"k":0.055,"p4":2260,"p3":2230,"p2":2190,"p1":2160,"m1":2130,"m2":2090,"m3":2060,"m4":2030,"base":2140},
{"k":0.06,"p4":2080,"p3":2050,"p2":2030,"p1":2000,"m1":1970,"m2":1940,"m3":1910,"m4":1890,"base":1980},
{"k":0.065,"p4":1950,"p3":1920,"p2":1900,"p1":1880,"m1":1850,"m2":1830,"m3":1800,"m4":1780,"base":1860},
{"k":0.07,"p4":1830,"p3":1810,"p2":1790,"p1":1760,"m1":1740,"m2":1720,"m3":1700,"m4":1680,"base":1750},
{"k":0.075,"p4":1690,"p3":1680,"p2":1660,"p1":1640,"m1":1620,"m2":1600,"m3":1590,"m4":1570,"base":1630},
{"k":0.08,"p4":1500,"p3":1490,"p2":1470,"p1":1460,"m1":1440,"m2":1430,"m3":1420,"m4":1400,"base":1450},
{"k":0.085,"p4":1370,"p3":1360,"p2":1350,"p1":1340,"m1":1320,"m2":1310,"m3":1300,"m4":1290,"base":1330},
{"k":0.09,"p4":1240,"p3":1230,"p2":1220,"p1":1210,"m1":1200,"m2":1190,"m3":1180,"m4":1170,"base":1200},
{"k":0.095,"p4":1120,"p3":1110,"p2":1100,"p1":1100,"m1":1090,"m2":1080,"m3":1070,"m4":1060,"base":1090},
{"k":0.1,"p4":1025,"p3":1018,"p2":1012,"p1":1005,"m1":997,"m2":990,"m3":983,"m4":976,"base":1000},
{"k":0.13,"p4":729,"p3":726,"p2":724,"p1":721,"m1":719,"m2":716,"m3":714,"m4":712,"base":720},
{"k":0.16,"p4":485,"p3":485,"p2":484,"p1":484,"m1":484,"m2":484,"m3":484,"m4":484,"base":484},
{"k":0.19,"p4":379,"p3":379,"p2":380,"p1":381,"m1":381,"m2":382,"m3":383,"m4":383,"base":381},
{"k":0.22,"p4":274,"p3":275,"p2":276,"p1":276,"m1":277,"m2":278,"m3":279,"m4":280,"base":277},
{"k":0.25,"p4":226,"p3":227,"p2":228,"p1":229,"m1":230,"m2":232,"m3":233,"m4":234,"base":230}
]
},
"spacing":20,
"hconcat":[
{"spacing":0,"bounds":"flush","vconcat":[
{"width":226,"height":179,"data":{"name":"tl"},
"layer":[
{"transform":[{"filter":"datum.t != 'p'"},{"fold":["p4","p3","p2","p1","m1","m2","m3","m4"],"as":["series","v"]}],
"mark":{"type":"line","strokeWidth":1,"opacity":0.8,"clip":true},
"encoding":{"x":{"field":"k","type":"quantitative","scale":{"type":"log","domain":[0.005,1.25],"nice":false},"axis":{"orient":"bottom","values":[0.006,0.007,0.008,0.009,0.01,0.02,0.03,0.04,0.05,0.06,0.07,0.08,0.09,0.1,0.2,0.3,0.4,0.5,0.6,0.7,0.8,0.9,1],"labels":false,"title":null,"tickSize":{"condition":{"test":"abs(log(datum.value)/LN10-round(log(datum.value)/LN10))<0.01","value":-8},"value":-4}}},
"y":{"field":"v","type":"quantitative","scale":{"domain":[-0.18,0.18],"nice":false,"zero":false},"axis":{"orient":"left","values":[-0.16,-0.14,-0.12,-0.1,-0.08,-0.06,-0.04,-0.02,0,0.02,0.04,0.06,0.08,0.1,0.12,0.14,0.16],"labelExpr":"abs(datum.value*10-round(datum.value*10))<0.01 ? format(datum.value,'~g') : ''","labelPadding":19,"labelOverlap":false,"labelFlush":false,"title":null,"tickSize":{"condition":{"test":"abs(datum.value*10-round(datum.value*10))<0.01","value":-8},"value":-4}}},
"color":{"field":"series","type":"nominal","scale":{"domain":["p4","p3","p2","p1","m1","m2","m3","m4"],"range":["#3b0b3d","#430f58","#4b1373","#53168e","#5a19a5","#601cb9","#661fcc","#6c22de"]},"legend":null}}},
{"transform":[{"filter":"datum.t != 'p'"}],
"mark":{"type":"line","color":"#ff0000","strokeWidth":1.5,"clip":true},
"encoding":{"x":{"field":"k","type":"quantitative","scale":{"type":"log","domain":[0.005,1.25],"nice":false},"axis":{"orient":"top","values":[0.006,0.007,0.008,0.009,0.01,0.02,0.03,0.04,0.05,0.06,0.07,0.08,0.09,0.1,0.2,0.3,0.4,0.5,0.6,0.7,0.8,0.9,1],"labels":false,"title":null,"tickSize":{"condition":{"test":"abs(log(datum.value)/LN10-round(log(datum.value)/LN10))<0.01","value":-8},"value":-4}}},
"y":{"field":"base","type":"quantitative","scale":{"domain":[-0.18,0.18],"nice":false,"zero":false},"axis":{"orient":"right","values":[-0.16,-0.14,-0.12,-0.1,-0.08,-0.06,-0.04,-0.02,0,0.02,0.04,0.06,0.08,0.1,0.12,0.14,0.16],"labels":false,"title":null,"tickSize":{"condition":{"test":"abs(datum.value*10-round(datum.value*10))<0.01","value":-8},"value":-4}}}}},
{"transform":[{"filter":"datum.t != 'l'"},{"fold":["p4","p3","p2","p1","m1","m2","m3","m4"],"as":["series","v"]}],
"mark":{"type":"point","shape":"square","filled":true,"size":6,"opacity":1,"clip":true},
"encoding":{"x":{"field":"k","type":"quantitative","scale":{"type":"log","domain":[0.005,1.25],"nice":false},"axis":null},"y":{"field":"v","type":"quantitative","scale":{"domain":[-0.18,0.18],"nice":false,"zero":false},"axis":null},"color":{"field":"series","type":"nominal","scale":{"domain":["p4","p3","p2","p1","m1","m2","m3","m4"],"range":["#3b0b3d","#430f58","#4b1373","#53168e","#5a19a5","#601cb9","#661fcc","#6c22de"]},"legend":null}}},
{"transform":[{"filter":"datum.t != 'l'"}],
"mark":{"type":"point","shape":"square","filled":true,"size":6,"opacity":1,"color":"#ff0000","clip":true},
"encoding":{"x":{"field":"k","type":"quantitative","scale":{"type":"log","domain":[0.005,1.25],"nice":false},"axis":null},"y":{"field":"base","type":"quantitative","scale":{"domain":[-0.18,0.18],"nice":false,"zero":false},"axis":null}}}
],
"resolve":{"axis":{"x":"independent","y":"independent"}}},
{"width":226,"height":178,"data":{"name":"ml"},
"layer":[
{"transform":[{"filter":"datum.t != 'p'"},{"fold":["p4","p3","p2","p1","m1","m2","m3","m4"],"as":["series","v"]}],
"mark":{"type":"line","strokeWidth":1,"opacity":0.8,"clip":true},
"encoding":{"x":{"field":"k","type":"quantitative","scale":{"type":"log","domain":[0.005,1.25],"nice":false},"axis":{"orient":"bottom","values":[0.006,0.007,0.008,0.009,0.01,0.02,0.03,0.04,0.05,0.06,0.07,0.08,0.09,0.1,0.2,0.3,0.4,0.5,0.6,0.7,0.8,0.9,1],"labels":false,"title":null,"tickSize":{"condition":{"test":"abs(log(datum.value)/LN10-round(log(datum.value)/LN10))<0.01","value":-8},"value":-4}}},
"y":{"field":"v","type":"quantitative","scale":{"domain":[-0.18,0.18],"nice":false,"zero":false},"axis":{"orient":"left","values":[-0.16,-0.14,-0.12,-0.1,-0.08,-0.06,-0.04,-0.02,0,0.02,0.04,0.06,0.08,0.1,0.12,0.14,0.16],"labelExpr":"abs(datum.value*10-round(datum.value*10))<0.01 ? format(datum.value,'~g') : ''","labelPadding":19,"labelOverlap":false,"labelFlush":false,"title":"ln[P/Pbase]","titlePadding":4,"tickSize":{"condition":{"test":"abs(datum.value*10-round(datum.value*10))<0.01","value":-8},"value":-4}}},
"color":{"field":"series","type":"nominal","scale":{"domain":["p4","p3","p2","p1","m1","m2","m3","m4"],"range":["#3b0b3d","#430f58","#4b1373","#53168e","#5a19a5","#601cb9","#661fcc","#6c22de"]},"legend":null}}},
{"transform":[{"filter":"datum.t != 'p'"}],
"mark":{"type":"line","color":"#ff0000","strokeWidth":1.5,"clip":true},
"encoding":{"x":{"field":"k","type":"quantitative","scale":{"type":"log","domain":[0.005,1.25],"nice":false},"axis":{"orient":"top","values":[0.006,0.007,0.008,0.009,0.01,0.02,0.03,0.04,0.05,0.06,0.07,0.08,0.09,0.1,0.2,0.3,0.4,0.5,0.6,0.7,0.8,0.9,1],"labels":false,"title":null,"tickSize":{"condition":{"test":"abs(log(datum.value)/LN10-round(log(datum.value)/LN10))<0.01","value":-8},"value":-4}}},
"y":{"field":"base","type":"quantitative","scale":{"domain":[-0.18,0.18],"nice":false,"zero":false},"axis":{"orient":"right","values":[-0.16,-0.14,-0.12,-0.1,-0.08,-0.06,-0.04,-0.02,0,0.02,0.04,0.06,0.08,0.1,0.12,0.14,0.16],"labels":false,"title":null,"tickSize":{"condition":{"test":"abs(datum.value*10-round(datum.value*10))<0.01","value":-8},"value":-4}}}}},
{"transform":[{"filter":"datum.t != 'l'"},{"fold":["p4","p3","p2","p1","m1","m2","m3","m4"],"as":["series","v"]}],
"mark":{"type":"point","shape":"square","filled":true,"size":6,"opacity":1,"clip":true},
"encoding":{"x":{"field":"k","type":"quantitative","scale":{"type":"log","domain":[0.005,1.25],"nice":false},"axis":null},"y":{"field":"v","type":"quantitative","scale":{"domain":[-0.18,0.18],"nice":false,"zero":false},"axis":null},"color":{"field":"series","type":"nominal","scale":{"domain":["p4","p3","p2","p1","m1","m2","m3","m4"],"range":["#3b0b3d","#430f58","#4b1373","#53168e","#5a19a5","#601cb9","#661fcc","#6c22de"]},"legend":null}}},
{"transform":[{"filter":"datum.t != 'l'"}],
"mark":{"type":"point","shape":"square","filled":true,"size":6,"opacity":1,"color":"#ff0000","clip":true},
"encoding":{"x":{"field":"k","type":"quantitative","scale":{"type":"log","domain":[0.005,1.25],"nice":false},"axis":null},"y":{"field":"base","type":"quantitative","scale":{"domain":[-0.18,0.18],"nice":false,"zero":false},"axis":null}}}
],
"resolve":{"axis":{"x":"independent","y":"independent"}}},
{"width":226,"height":178,"data":{"name":"bl"},
"layer":[
{"transform":[{"fold":["p4","p3","p2","p1","m1","m2","m3","m4"],"as":["series","v"]}],
"mark":{"type":"point","shape":"square","filled":true,"size":6,"opacity":1,"clip":true},
"encoding":{"x":{"field":"k","type":"quantitative","scale":{"type":"log","domain":[0.005,1.25],"nice":false},"axis":{"orient":"bottom","values":[0.006,0.007,0.008,0.009,0.01,0.02,0.03,0.04,0.05,0.06,0.07,0.08,0.09,0.1,0.2,0.3,0.4,0.5,0.6,0.7,0.8,0.9,1],"labelExpr":"abs(log(datum.value)/LN10-round(log(datum.value)/LN10))<0.01 ? format(datum.value,'~g') : ''","labelPadding":20,"labelOverlap":false,"labelFlush":false,"title":"k  (h  Mpc⁻¹)","titlePadding":4,"tickSize":{"condition":{"test":"abs(log(datum.value)/LN10-round(log(datum.value)/LN10))<0.01","value":-8},"value":-4}}},
"y":{"field":"v","type":"quantitative","scale":{"domain":[-0.18,0.18],"nice":false,"zero":false},"axis":{"orient":"left","values":[-0.16,-0.14,-0.12,-0.1,-0.08,-0.06,-0.04,-0.02,0,0.02,0.04,0.06,0.08,0.1,0.12,0.14,0.16],"labelExpr":"abs(datum.value*10-round(datum.value*10))<0.01 ? format(datum.value,'~g') : ''","labelPadding":19,"labelOverlap":false,"labelFlush":false,"title":null,"tickSize":{"condition":{"test":"abs(datum.value*10-round(datum.value*10))<0.01","value":-8},"value":-4}}},
"color":{"field":"series","type":"nominal","scale":{"domain":["p4","p3","p2","p1","m1","m2","m3","m4"],"range":["#3b0b3d","#430f58","#4b1373","#53168e","#5a19a5","#601cb9","#661fcc","#6c22de"]},"legend":null}}},
{"mark":{"type":"point","shape":"square","filled":true,"size":6,"opacity":1,"color":"#ff0000","clip":true},
"encoding":{"x":{"field":"k","type":"quantitative","scale":{"type":"log","domain":[0.005,1.25],"nice":false},"axis":{"orient":"top","values":[0.006,0.007,0.008,0.009,0.01,0.02,0.03,0.04,0.05,0.06,0.07,0.08,0.09,0.1,0.2,0.3,0.4,0.5,0.6,0.7,0.8,0.9,1],"labels":false,"title":null,"tickSize":{"condition":{"test":"abs(log(datum.value)/LN10-round(log(datum.value)/LN10))<0.01","value":-8},"value":-4}}},
"y":{"field":"base","type":"quantitative","scale":{"domain":[-0.18,0.18],"nice":false,"zero":false},"axis":{"orient":"right","values":[-0.16,-0.14,-0.12,-0.1,-0.08,-0.06,-0.04,-0.02,0,0.02,0.04,0.06,0.08,0.1,0.12,0.14,0.16],"labels":false,"title":null,"tickSize":{"condition":{"test":"abs(datum.value*10-round(datum.value*10))<0.01","value":-8},"value":-4}}}}}
],
"resolve":{"axis":{"x":"independent","y":"independent"}}}
]},
{"spacing":0,"bounds":"flush","vconcat":[
{"width":226,"height":179,"data":{"name":"tr"},
"layer":[
{"transform":[{"filter":"datum.t != 'p'"},{"fold":["p4","p3","p2","p1","m1","m2","m3","m4"],"as":["series","v"]}],
"mark":{"type":"line","strokeWidth":2.5,"opacity":0.3,"clip":true},
"encoding":{"x":{"field":"k","type":"quantitative","scale":{"type":"log","domain":[0.004,1],"nice":false},"axis":{"orient":"bottom","values":[0.005,0.006,0.007,0.008,0.009,0.01,0.02,0.03,0.04,0.05,0.06,0.07,0.08,0.09,0.1,0.2,0.3,0.4,0.5,0.6,0.7,0.8,0.9],"labels":false,"title":null,"tickSize":{"condition":{"test":"abs(log(datum.value)/LN10-round(log(datum.value)/LN10))<0.01","value":-8},"value":-4}}},
"y":{"field":"v","type":"quantitative","scale":{"type":"log","domain":[200,50000],"nice":false},"axis":{"orient":"left","values":[300,400,500,600,700,800,900,1000,2000,3000,4000,5000,6000,7000,8000,9000,10000,20000,30000,40000],"labelExpr":"datum.value==1000 ? '10 ³' : datum.value==10000 ? '10 ⁴' : ''","labelPadding":18,"labelOverlap":false,"labelFlush":false,"title":null,"tickSize":{"condition":{"test":"datum.value==1000 || datum.value==10000","value":-8},"value":-4}}},
"color":{"field":"series","type":"nominal","scale":{"domain":["p4","p3","p2","p1","m1","m2","m3","m4"],"range":["#3b0b3d","#430f58","#4b1373","#53168e","#5a19a5","#601cb9","#661fcc","#6c22de"]},"legend":null}}},
{"transform":[{"filter":"datum.t != 'p'"}],
"mark":{"type":"line","color":"#ff0000","strokeWidth":1.2,"clip":true},
"encoding":{"x":{"field":"k","type":"quantitative","scale":{"type":"log","domain":[0.004,1],"nice":false},"axis":{"orient":"top","values":[0.005,0.006,0.007,0.008,0.009,0.01,0.02,0.03,0.04,0.05,0.06,0.07,0.08,0.09,0.1,0.2,0.3,0.4,0.5,0.6,0.7,0.8,0.9],"labels":false,"title":null,"tickSize":{"condition":{"test":"abs(log(datum.value)/LN10-round(log(datum.value)/LN10))<0.01","value":-8},"value":-4}}},
"y":{"field":"base","type":"quantitative","scale":{"type":"log","domain":[200,50000],"nice":false},"axis":{"orient":"right","values":[300,400,500,600,700,800,900,1000,2000,3000,4000,5000,6000,7000,8000,9000,10000,20000,30000,40000],"labels":false,"title":null,"tickSize":{"condition":{"test":"datum.value==1000 || datum.value==10000","value":-8},"value":-4}}}}},
{"transform":[{"filter":"datum.t != 'l'"},{"fold":["p4","p3","p2","p1","m1","m2","m3","m4"],"as":["series","v"]}],
"mark":{"type":"point","shape":"square","filled":true,"size":10,"opacity":1,"clip":true},
"encoding":{"x":{"field":"k","type":"quantitative","scale":{"type":"log","domain":[0.004,1],"nice":false},"axis":null},"y":{"field":"v","type":"quantitative","scale":{"type":"log","domain":[200,50000],"nice":false},"axis":null},"color":{"field":"series","type":"nominal","scale":{"domain":["p4","p3","p2","p1","m1","m2","m3","m4"],"range":["#3b0b3d","#430f58","#4b1373","#53168e","#5a19a5","#601cb9","#661fcc","#6c22de"]},"legend":null}}},
{"transform":[{"filter":"datum.t != 'l'"}],
"mark":{"type":"point","shape":"square","filled":true,"size":10,"opacity":1,"color":"#ff0000","clip":true},
"encoding":{"x":{"field":"k","type":"quantitative","scale":{"type":"log","domain":[0.004,1],"nice":false},"axis":null},"y":{"field":"base","type":"quantitative","scale":{"type":"log","domain":[200,50000],"nice":false},"axis":null}}}
],
"resolve":{"axis":{"x":"independent","y":"independent"}}},
{"width":226,"height":178,"data":{"name":"mr"},
"layer":[
{"transform":[{"filter":"datum.t != 'p'"},{"fold":["p4","p3","p2","p1","m1","m2","m3","m4"],"as":["series","v"]}],
"mark":{"type":"line","strokeWidth":2.5,"opacity":0.3,"clip":true},
"encoding":{"x":{"field":"k","type":"quantitative","scale":{"type":"log","domain":[0.004,1],"nice":false},"axis":{"orient":"bottom","values":[0.005,0.006,0.007,0.008,0.009,0.01,0.02,0.03,0.04,0.05,0.06,0.07,0.08,0.09,0.1,0.2,0.3,0.4,0.5,0.6,0.7,0.8,0.9],"labels":false,"title":null,"tickSize":{"condition":{"test":"abs(log(datum.value)/LN10-round(log(datum.value)/LN10))<0.01","value":-8},"value":-4}}},
"y":{"field":"v","type":"quantitative","scale":{"type":"log","domain":[200,50000],"nice":false},"axis":{"orient":"left","values":[300,400,500,600,700,800,900,1000,2000,3000,4000,5000,6000,7000,8000,9000,10000,20000,30000,40000],"labelExpr":"datum.value==1000 ? '10 ³' : datum.value==10000 ? '10 ⁴' : ''","labelPadding":18,"labelOverlap":false,"labelFlush":false,"title":"P(k)  (Mpc h⁻¹)³","titlePadding":11,"tickSize":{"condition":{"test":"datum.value==1000 || datum.value==10000","value":-8},"value":-4}}},
"color":{"field":"series","type":"nominal","scale":{"domain":["p4","p3","p2","p1","m1","m2","m3","m4"],"range":["#3b0b3d","#430f58","#4b1373","#53168e","#5a19a5","#601cb9","#661fcc","#6c22de"]},"legend":null}}},
{"transform":[{"filter":"datum.t != 'p'"}],
"mark":{"type":"line","color":"#ff0000","strokeWidth":1.2,"clip":true},
"encoding":{"x":{"field":"k","type":"quantitative","scale":{"type":"log","domain":[0.004,1],"nice":false},"axis":{"orient":"top","values":[0.005,0.006,0.007,0.008,0.009,0.01,0.02,0.03,0.04,0.05,0.06,0.07,0.08,0.09,0.1,0.2,0.3,0.4,0.5,0.6,0.7,0.8,0.9],"labels":false,"title":null,"tickSize":{"condition":{"test":"abs(log(datum.value)/LN10-round(log(datum.value)/LN10))<0.01","value":-8},"value":-4}}},
"y":{"field":"base","type":"quantitative","scale":{"type":"log","domain":[200,50000],"nice":false},"axis":{"orient":"right","values":[300,400,500,600,700,800,900,1000,2000,3000,4000,5000,6000,7000,8000,9000,10000,20000,30000,40000],"labels":false,"title":null,"tickSize":{"condition":{"test":"datum.value==1000 || datum.value==10000","value":-8},"value":-4}}}}},
{"transform":[{"filter":"datum.t != 'l'"},{"fold":["p4","p3","p2","p1","m1","m2","m3","m4"],"as":["series","v"]}],
"mark":{"type":"point","shape":"square","filled":true,"size":10,"opacity":1,"clip":true},
"encoding":{"x":{"field":"k","type":"quantitative","scale":{"type":"log","domain":[0.004,1],"nice":false},"axis":null},"y":{"field":"v","type":"quantitative","scale":{"type":"log","domain":[200,50000],"nice":false},"axis":null},"color":{"field":"series","type":"nominal","scale":{"domain":["p4","p3","p2","p1","m1","m2","m3","m4"],"range":["#3b0b3d","#430f58","#4b1373","#53168e","#5a19a5","#601cb9","#661fcc","#6c22de"]},"legend":null}}},
{"transform":[{"filter":"datum.t != 'l'"}],
"mark":{"type":"point","shape":"square","filled":true,"size":10,"opacity":1,"color":"#ff0000","clip":true},
"encoding":{"x":{"field":"k","type":"quantitative","scale":{"type":"log","domain":[0.004,1],"nice":false},"axis":null},"y":{"field":"base","type":"quantitative","scale":{"type":"log","domain":[200,50000],"nice":false},"axis":null}}}
],
"resolve":{"axis":{"x":"independent","y":"independent"}}},
{"width":226,"height":178,"data":{"name":"br"},
"layer":[
{"transform":[{"fold":["p4","p3","p2","p1","m1","m2","m3","m4"],"as":["series","v"]}],
"mark":{"type":"point","shape":"square","filled":true,"size":10,"opacity":1,"clip":true},
"encoding":{"x":{"field":"k","type":"quantitative","scale":{"type":"log","domain":[0.004,1],"nice":false},"axis":{"orient":"bottom","values":[0.005,0.006,0.007,0.008,0.009,0.01,0.02,0.03,0.04,0.05,0.06,0.07,0.08,0.09,0.1,0.2,0.3,0.4,0.5,0.6,0.7,0.8,0.9,1],"labelExpr":"abs(log(datum.value)/LN10-round(log(datum.value)/LN10))<0.01 ? format(datum.value,'~g') : ''","labelPadding":20,"labelOverlap":false,"labelFlush":true,"labelFlushOffset":2,"title":"k  (h  Mpc⁻¹)","titlePadding":4,"tickSize":{"condition":{"test":"abs(log(datum.value)/LN10-round(log(datum.value)/LN10))<0.01","value":-8},"value":-4}}},
"y":{"field":"v","type":"quantitative","scale":{"type":"log","domain":[200,50000],"nice":false},"axis":{"orient":"left","values":[300,400,500,600,700,800,900,1000,2000,3000,4000,5000,6000,7000,8000,9000,10000,20000,30000,40000],"labelExpr":"datum.value==1000 ? '10 ³' : datum.value==10000 ? '10 ⁴' : ''","labelPadding":18,"labelOverlap":false,"labelFlush":false,"title":null,"tickSize":{"condition":{"test":"datum.value==1000 || datum.value==10000","value":-8},"value":-4}}},
"color":{"field":"series","type":"nominal","scale":{"domain":["p4","p3","p2","p1","m1","m2","m3","m4"],"range":["#3b0b3d","#430f58","#4b1373","#53168e","#5a19a5","#601cb9","#661fcc","#6c22de"]},"legend":null}}},
{"mark":{"type":"point","shape":"square","filled":true,"size":10,"opacity":1,"color":"#ff0000","clip":true},
"encoding":{"x":{"field":"k","type":"quantitative","scale":{"type":"log","domain":[0.004,1],"nice":false},"axis":{"orient":"top","values":[0.005,0.006,0.007,0.008,0.009,0.01,0.02,0.03,0.04,0.05,0.06,0.07,0.08,0.09,0.1,0.2,0.3,0.4,0.5,0.6,0.7,0.8,0.9],"labels":false,"title":null,"tickSize":{"condition":{"test":"abs(log(datum.value)/LN10-round(log(datum.value)/LN10))<0.01","value":-8},"value":-4}}},
"y":{"field":"base","type":"quantitative","scale":{"type":"log","domain":[200,50000],"nice":false},"axis":{"orient":"right","values":[300,400,500,600,700,800,900,1000,2000,3000,4000,5000,6000,7000,8000,9000,10000,20000,30000,40000],"labels":false,"title":null,"tickSize":{"condition":{"test":"datum.value==1000 || datum.value==10000","value":-8},"value":-4}}}}}
],
"resolve":{"axis":{"x":"independent","y":"independent"}}}
]}
]
}
